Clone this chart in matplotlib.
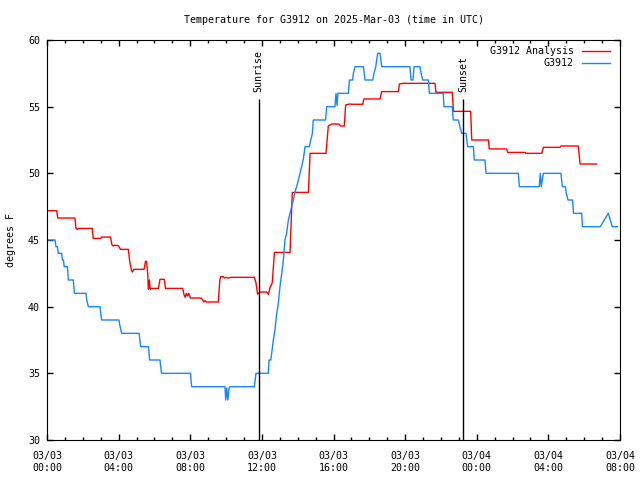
import matplotlib
matplotlib.use("Agg")
import matplotlib.pyplot as plt
from datetime import datetime, timedelta

plt.rcParams['font.family'] = ['DejaVu Sans Mono']

base = datetime(2025, 3, 3, 0, 0)

analysis_hours = [0, 0.54, 0.6, 1.56, 1.62, 1.7, 1.75, 2.53, 2.58, 3.0, 3.05, 3.55, 3.62, 3.7, 3.78,
                  3.9, 4.0, 4.1, 4.54, 4.62, 4.72, 4.78, 4.84, 5.42, 5.5, 5.56, 5.63, 5.66, 5.72, 5.76,
                  5.8, 6.22, 6.31, 6.55, 6.62, 7.58, 7.65, 7.72, 7.78, 7.85, 7.92, 8.0, 8.6, 8.7,
                  8.76, 8.82, 8.9, 9.57, 9.65, 9.7, 9.85, 9.9, 10.0, 10.1, 10.3, 11.58, 11.67, 11.76,
                  11.9, 12.27, 12.36, 12.45, 12.58, 12.7, 13.57, 13.7, 14.6, 14.69, 15.58, 15.71,
                  15.9, 16.3, 16.4, 16.6, 16.68, 16.9, 17.0, 17.63, 17.7, 18.6, 18.69, 19.62, 19.68,
                  19.9, 21.67, 21.72, 22.63, 22.7, 23.66, 23.72, 24.65, 24.7, 25.67, 25.73, 26.7,
                  26.73, 27.63, 27.72, 28.65, 28.7, 29.67, 29.77, 30.7]
analysis_temp = [47.2, 47.2, 46.65, 46.65, 45.85, 45.8, 45.87, 45.87, 45.12, 45.12, 45.22, 45.22, 44.65, 44.55, 44.6,
                 44.6, 44.55, 44.3, 44.3, 43.4, 42.7, 42.6, 42.8, 42.8, 43.4, 43.4, 42.4, 41.3, 42.0, 41.3,
                 41.37, 41.37, 42.05, 42.05, 41.37, 41.37, 40.9, 40.7, 41.0, 40.8, 41.0, 40.65, 40.65, 40.5,
                 40.35, 40.45, 40.35, 40.35, 42.0, 42.25, 42.25, 42.15, 42.2, 42.15, 42.2, 42.2, 41.8, 40.93,
                 41.1, 41.1, 40.93, 41.4, 41.8, 44.07, 44.07, 48.57, 48.57, 51.5, 51.5, 53.55,
                 53.7, 53.7, 53.55, 53.55, 55.13, 55.2, 55.18, 55.18, 55.58, 55.58, 56.13, 56.13, 56.7,
                 56.75, 56.75, 56.08, 56.08, 54.65, 54.65, 52.5, 52.5, 51.83, 51.83, 51.57, 51.57,
                 51.5, 51.5, 51.95, 51.95, 52.05, 52.05, 50.7, 50.7]

obs_hours = [0, 0.45, 0.5, 0.58, 0.63, 0.82, 0.86, 0.92, 0.96, 1.14, 1.19, 1.47, 1.5, 1.53, 2.18, 2.22,
             2.31, 2.96, 3.0, 3.05, 4.02, 4.08, 4.17, 5.14, 5.19, 5.23, 5.66, 5.7, 5.73, 6.31, 6.35,
             6.4, 8.02, 8.04, 8.08, 9.94, 9.98, 10.04, 10.1, 10.17, 10.22, 11.58, 11.67, 12.36,
             12.4, 12.5, 12.64, 12.73,
             12.83, 12.92, 13.01, 13.11, 13.2, 13.29, 13.38, 13.48, 13.57, 13.66, 13.76, 13.85,
             13.94, 14.04, 14.13, 14.22, 14.32, 14.41, 14.65, 14.73, 14.82, 14.87, 15.56, 15.62,
             16.08, 16.14, 16.2, 16.25, 16.36, 16.83, 16.89, 17.07, 17.11, 17.2, 17.67, 17.76,
             18.19, 18.26, 18.36, 18.47, 18.6, 18.69, 20.27, 20.33, 20.44, 20.5, 20.83, 20.89,
             20.98, 21.3, 21.35, 22.13, 22.17, 22.63, 22.69, 22.97, 23.06, 23.16, 23.4, 23.49,
             23.81, 23.86, 24.46, 24.52, 26.32, 26.38, 27.49, 27.55, 27.6, 27.72, 28.7, 28.78,
             28.95, 29.0, 29.1, 29.35, 29.4, 29.86, 29.9, 30.9, 31.35, 31.57, 31.85]
obs_temp = [45.0, 45.0, 44.5, 44.5, 44.0, 44.0, 43.5, 43.5, 43.0, 43.0, 42.0, 42.0, 41.5, 41.0, 41.0, 40.5,
            40.0, 40.0, 39.5, 39.0, 39.0, 38.5, 38.0, 38.0, 37.5, 37.0, 37.0, 36.5, 36.0, 36.0, 35.5,
            35.0, 35.0, 34.5, 34.0, 34.0, 33.0, 33.9, 33.0, 33.9, 34.0, 34.0, 35.0, 35.0,
            36.0, 36.0, 37.5, 38.25,
            39.5, 40.25, 41.5, 42.5, 43.5, 45.0, 45.5, 46.5, 47.0, 47.5, 48.0, 48.6,
            49.0, 49.5, 50.0, 50.5, 51.1, 52.0, 52.0, 52.5, 53.0, 54.0, 54.0, 55.0,
            55.0, 56.0, 55.1, 56.0, 56.0, 56.0, 57.0, 57.0, 57.5, 58.0, 58.0, 57.0,
            57.0, 57.5, 58.0, 59.0, 59.0, 58.0, 58.0, 57.0, 57.0, 58.0, 58.0, 57.5,
            57.0, 57.0, 56.0, 56.0, 55.0, 55.0, 54.0, 54.0, 53.5, 53.0, 53.0, 52.0,
            52.0, 51.0, 51.0, 50.0, 50.0, 49.0, 49.0, 50.0, 49.0, 50.0, 50.0, 49.0,
            49.0, 48.5, 48.0, 48.0, 47.0, 47.0, 46.0, 46.0, 47.0, 46.0, 46.0]

sun_events = ["Sunrise", "Sunset"]
sun_hours = [11.82, 23.25]

x_tick_labels = ["03/03\n00:00", "03/03\n04:00", "03/03\n08:00", "03/03\n12:00", "03/03\n16:00",
                 "03/03\n20:00", "03/04\n00:00", "03/04\n04:00", "03/04\n08:00"]
y_ticks = [30, 35, 40, 45, 50, 55, 60]

FS = 7.2

def to_dt(hours):
    return [base + timedelta(hours=h) for h in hours]

fig = plt.figure(figsize=(6.4, 4.8), dpi=100)
ax = fig.add_axes([47/640, 40/480, 573/640, 400/480])

ax.plot(to_dt(analysis_hours), analysis_temp, color='#ff0000', lw=1.0, label='G3912 Analysis')
ax.plot(to_dt(obs_hours), obs_temp, color='#1a85ff', lw=1.0, label='G3912')

for name, h in zip(sun_events, sun_hours):
    t = base + timedelta(hours=h)
    ax.vlines(t, 30, 55.6, color='black', lw=1.0)
    ax.text(t, 56.1, name, rotation=90, ha='center', va='bottom', fontsize=FS)

ax.set_xlim(base, base + timedelta(hours=32))
ax.set_ylim(30, 60)
major = [base + timedelta(hours=4 * i) for i in range(9)]
ax.set_xticks(major)
ax.set_xticklabels(x_tick_labels, fontsize=FS, linespacing=1.25)
ax.set_xticks([base + timedelta(hours=i) for i in range(33) if i % 4], minor=True)
ax.set_yticks(y_ticks)
ax.set_yticklabels([str(v) for v in y_ticks], fontsize=FS)
ax.tick_params(which='major', direction='in', top=True, right=True, length=4, width=1)
ax.tick_params(which='minor', direction='in', top=True, right=True, length=2, width=1)
ax.tick_params(axis='x', which='major', pad=8)
ax.tick_params(axis='y', which='major', pad=5)
ax.set_ylabel('degrees F', fontsize=FS, labelpad=8.5)
ax.set_title('Temperature for G3912 on 2025-Mar-03 (time in UTC)', fontsize=FS, pad=12)

leg = ax.legend(loc='upper right', frameon=False, fontsize=FS, markerfirst=False,
                handlelength=2.8, borderaxespad=0.0, borderpad=0.0,
                bbox_to_anchor=(1 - 10.5/573, 1 - 6.5/400),
                labelspacing=0.2, handletextpad=0.75)
for t in leg.get_texts():
    t.set_ha('right')

fig.savefig('out.png', dpi=100)
